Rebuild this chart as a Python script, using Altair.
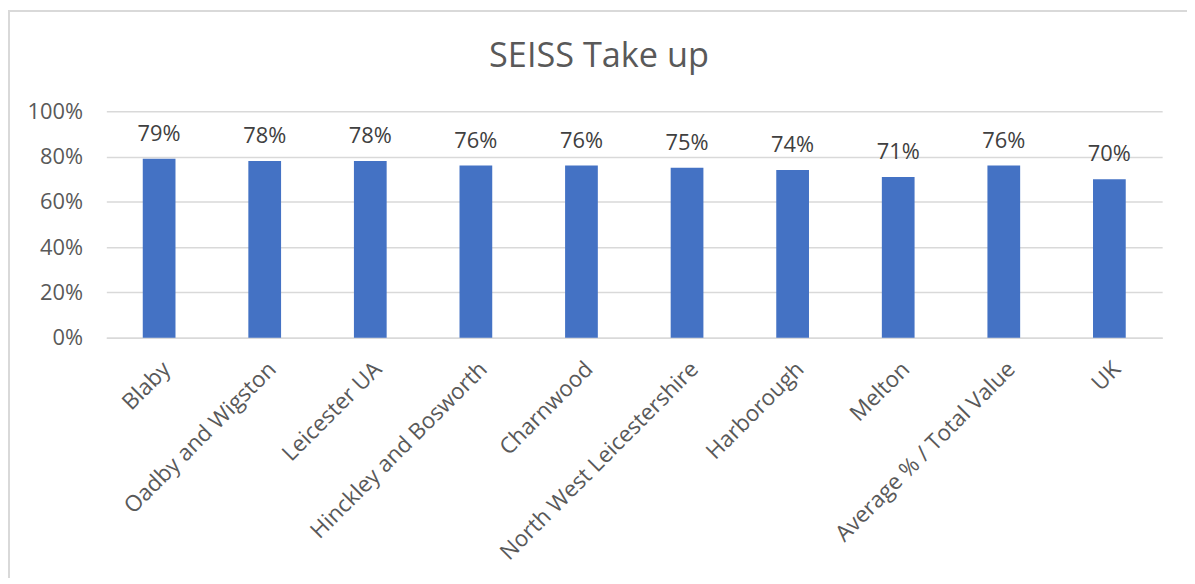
import altair as alt
import pandas as pd

categories = ["Blaby", "Oadby and Wigston", "Leicester UA", "Hinckley and Bosworth",
              "Charnwood", "North West Leicestershire", "Harborough", "Melton",
              "Average % / Total Value", "UK"]
take_up = [0.79, 0.78, 0.78, 0.76, 0.76, 0.75, 0.74, 0.71, 0.76, 0.70]
title_text = ["SEISS Take up"]

df = pd.DataFrame({"area": categories, "value": take_up})
tdf = pd.DataFrame({"t": title_text})

FONT = "Open Sans"
GREY = "#595959"

x = alt.X("area:N", sort=categories, title=None,
          scale=alt.Scale(paddingInner=0.69, paddingOuter=0.345),
          axis=alt.Axis(labelAngle=-45, labelFontSize=22.5, labelColor=GREY, labelFont=FONT,
                        ticks=False, domainColor="#D9D9D9", domainWidth=1.5,
                        labelPadding=20, labelLimit=400))
y = alt.Y("value:Q", title=None,
          scale=alt.Scale(domain=[0, 1]),
          axis=alt.Axis(values=[0, 0.2, 0.4, 0.6, 0.8, 1.0], format=".0%", labelFontSize=22,
                        labelColor=GREY, labelFont=FONT, ticks=False, domain=False,
                        gridColor="#D9D9D9", gridWidth=1.5, labelPadding=24))

bars = alt.Chart(df).mark_bar(color="#4472C4").encode(x=x, y=y)
labels = alt.Chart(df).mark_text(dy=-25, fontSize=22, color="#404040", font=FONT).encode(
    x=alt.X("area:N", sort=categories), y="value:Q", text=alt.Text("value:Q", format=".0%"))

frame = alt.Chart(df).mark_rect(fill=None, stroke="#D9D9D9", strokeWidth=1.5, clip=False).encode(
    x=alt.value(-98), x2=alt.value(1100), y=alt.value(-101), y2=alt.value(600))

title = alt.Chart(tdf).mark_text(fontSize=34.5, font=FONT, color=GREY, align="center",
                                 baseline="alphabetic").encode(
    x=alt.value(496), y=alt.value(-45), text="t:N")

chart = alt.layer(frame, bars, labels, title).properties(
    width=1063, height=228,
    padding={"left": 99, "top": 102, "right": 25, "bottom": 240},
    autosize=alt.AutoSizeParams(type="none"),
).configure_view(stroke=None)

chart.save("out.html", embed_options={"renderer": "svg", "actions": False})
